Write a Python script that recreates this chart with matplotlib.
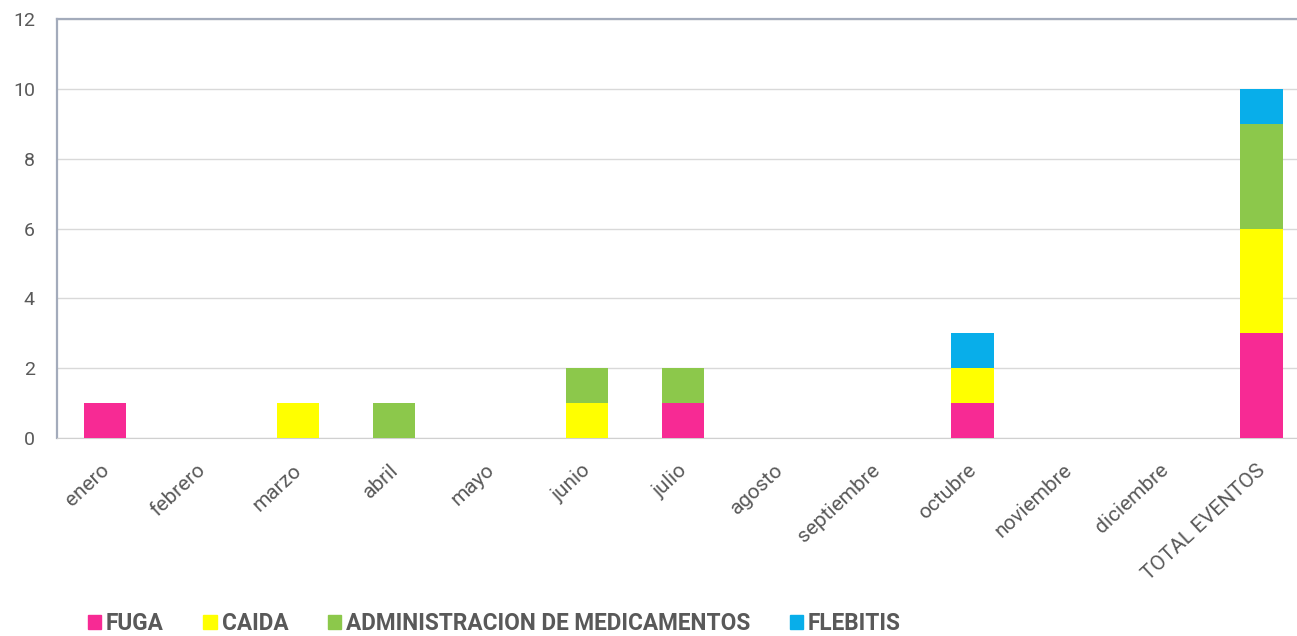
import numpy as np
import matplotlib
matplotlib.use("Agg")
import matplotlib.pyplot as plt
import matplotlib.transforms as mtransforms
from matplotlib.patches import Patch

# ─────────────────────────────────────────────
# Data
# ─────────────────────────────────────────────

categories = ["enero", "febrero", "marzo", "abril", "mayo", "junio", "julio",
              "agosto", "septiembre", "octubre", "noviembre", "diciembre",
              "TOTAL EVENTOS"]
series_names = ["FUGA", "CAIDA", "ADMINISTRACION DE MEDICAMENTOS", "FLEBITIS"]
fuga = [1, 0, 0, 0, 0, 0, 1, 0, 0, 1, 0, 0, 3]
caida = [0, 0, 1, 0, 0, 1, 0, 0, 0, 1, 0, 0, 3]
administracion = [0, 0, 0, 1, 0, 1, 1, 0, 0, 0, 0, 0, 3]
flebitis = [0, 0, 0, 0, 0, 0, 0, 0, 0, 1, 0, 0, 1]

colors = ["#f72a94", "#ffff00", "#8cc84b", "#08aeea"]

# ─────────────────────────────────────────────
# Plot
# ─────────────────────────────────────────────

fig = plt.figure(figsize=(12.97, 6.36), dpi=100)
ax = fig.add_axes([0.044, 0.311, 0.956, 0.659])

x = np.arange(len(categories))
bottom = np.zeros(len(categories))
for name, vals, c in zip(series_names, [fuga, caida, administracion, flebitis], colors):
    ax.bar(x, vals, width=0.44, bottom=bottom, color=c, label=name, zorder=3)
    bottom += np.array(vals)

ax.set_ylim(0, 12)
ax.set_yticks(range(0, 13, 2))
ax.set_xlim(-0.5, 12.37)
ax.yaxis.grid(True, color="#d9d9d9", linewidth=1, zorder=0)

for s in ["left", "top"]:
    ax.spines[s].set_color("#a3abbb")
    ax.spines[s].set_linewidth(1.6)
ax.spines["right"].set_visible(False)
ax.spines["bottom"].set_color("#d0d0d0")

tick_font = ["Roboto", "DejaVu Sans"]
ax.tick_params(axis="both", length=0, colors="#595959")
ax.tick_params(axis="y", pad=16, labelsize=14)
ax.tick_params(axis="x", pad=12, labelsize=15)
ax.set_xticks(x)
ax.set_xticklabels(categories, rotation=43, ha="right", rotation_mode="anchor",
                   family=tick_font)
shift = mtransforms.ScaledTranslation(-4 / 72, -4 / 72, fig.dpi_scale_trans)
for lbl in ax.get_xticklabels():
    lbl.set_transform(lbl.get_transform() + shift)
for lbl in ax.get_yticklabels():
    lbl.set_family(tick_font)

handles = [Patch(color=c) for c in colors]
fig.legend(handles, series_names, loc="lower left", bbox_to_anchor=(0.052, -0.03),
           ncol=4, frameon=False, handlelength=0.6, handleheight=0.6,
           handletextpad=0.2, columnspacing=1.75,
           prop={"family": ["Roboto", "DejaVu Sans"], "weight": "bold", "size": 16.3},
           labelcolor="#595959")

plt.savefig("out.png", dpi=100)
plt.close()
